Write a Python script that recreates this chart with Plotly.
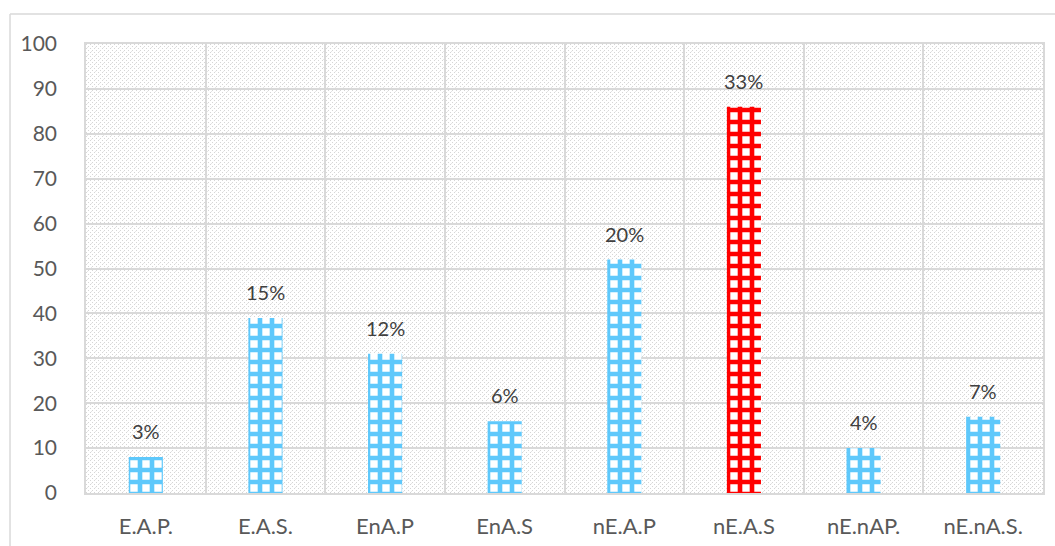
import base64
import plotly.graph_objects as go

categories = ["E.A.P.", "E.A.S.", "EnA.P", "EnA.S", "nE.A.P", "nE.A.S", "nE.nAP.", "nE.nA.S."]
values = [8, 39, 31, 16, 52, 86, 10, 17]
labels = ["3%", "15%", "12%", "6%", "20%", "33%", "4%", "7%"]
highlight = "nE.A.S"

blue = "#5ec8fb"
red = "#ff0000"
fg = [red if c == highlight else blue for c in categories]

# hatched background tile (decoration only)
dots = [(0, 0), (2, 2), (4, 4), (6, 6), (0, 4), (4, 0), (2, 6), (6, 2)]
rects = "".join('<rect x="%d" y="%d" width="1" height="1" fill="#d6d6d6"/>' % d for d in dots)
svg = (
    '<svg xmlns="http://www.w3.org/2000/svg" width="957" height="449" viewBox="0 0 957 449" preserveAspectRatio="none">'
    '<defs><pattern id="p" width="8" height="8" patternUnits="userSpaceOnUse">'
    '<rect width="8" height="8" fill="#ffffff"/>' + rects +
    '<rect x="1" y="3" width="1" height="1" fill="#e6e6e6"/>'
    '<rect x="5" y="7" width="1" height="1" fill="#e6e6e6"/>'
    '</pattern></defs>'
    '<rect width="957" height="449" fill="url(#p)"/></svg>'
)
src = "data:image/svg+xml;base64," + base64.b64encode(svg.encode()).decode()

fig = go.Figure()
fig.add_trace(go.Bar(
    x=categories, y=values,
    width=0.285,
    marker=dict(
        color="#ffffff",
        line=dict(width=0),
        pattern=dict(shape="+", fgcolor=fg, bgcolor="#ffffff", fgopacity=1,
                     size=12, solidity=0.62, fillmode="replace"),
    ),
    hoverinfo="x+y",
))

annotations = [
    dict(x=c, y=v, text=t, xref="x", yref="y", showarrow=False, yanchor="bottom",
         yshift=12, font=dict(size=20, color="#404040"))
    for c, v, t in zip(categories, values, labels)
]

fig.update_layout(
    width=1055, height=546,
    margin=dict(l=86, r=12, t=44, b=53),
    paper_bgcolor="#ffffff",
    plot_bgcolor="#ffffff",
    font=dict(family="Lato, Open Sans, sans-serif", color="#595959", size=20),
    showlegend=False,
    annotations=annotations,
    images=[dict(source=src, xref="paper", yref="paper", x=0, y=1, sizex=1, sizey=1,
                 sizing="stretch", layer="below", xanchor="left", yanchor="top")],
    shapes=[
        dict(type="line", xref="paper", yref="paper", x0=-0.0794, x1=-0.0794, y0=1.067, y1=-0.2,
             line=dict(color="#d9d9d9", width=1.5)),
        dict(type="line", xref="paper", yref="paper", x0=-0.0794, x1=1.02, y0=1.067, y1=1.067,
             line=dict(color="#d9d9d9", width=1.5)),
    ],
)
fig.update_xaxes(
    type="category", tickson="boundaries", showgrid=True, gridcolor="#d9d9d9", gridwidth=1.5,
    showline=True, linecolor="#d9d9d9", linewidth=1.5, mirror=True, automargin=False,
    ticks="", ticklabelstandoff=13, tickfont=dict(size=22, color="#595959"),
)
fig.update_yaxes(
    range=[0, 100], dtick=10, showgrid=True, gridcolor="#d9d9d9", gridwidth=1.5,
    showline=True, linecolor="#d9d9d9", linewidth=1.5, mirror=True, zeroline=False, automargin=False,
    ticks="", ticklabelstandoff=23, tickfont=dict(size=21, color="#595959"),
)

fig.write_html("out.html", config={"displayModeBar": False})

with open("out.html", "r", encoding="utf-8") as f:
    html = f.read()
html = html.replace("<head>", "<head><style>html,body{margin:0;padding:0;overflow:hidden;}</style>", 1)
with open("out.html", "w", encoding="utf-8") as f:
    f.write(html)
